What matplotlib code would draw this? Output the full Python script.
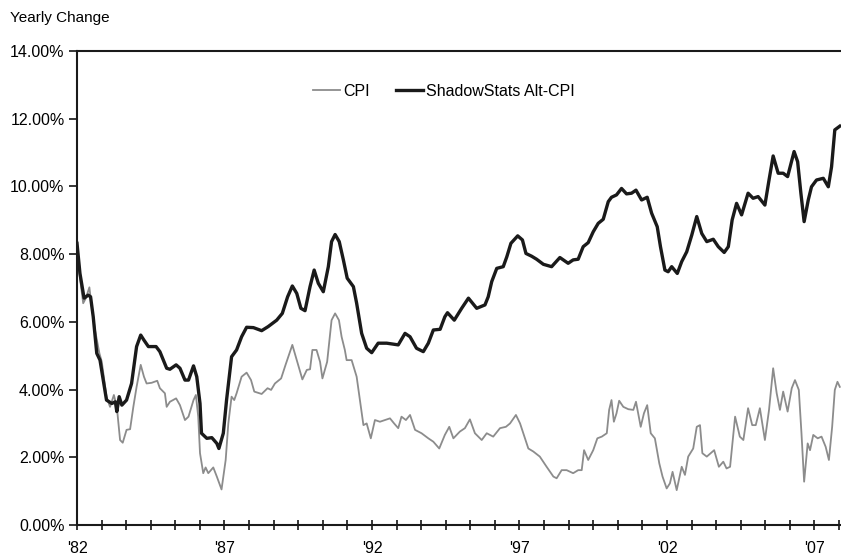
import matplotlib
matplotlib.use("Agg")
import matplotlib.pyplot as plt
from matplotlib.ticker import FuncFormatter

plt.rcParams['font.family'] = ['Liberation Sans', 'DejaVu Sans']

# ShadowStats Alt-CPI, yearly change in %
alt_years = [1982.0, 1982.1, 1982.24, 1982.38, 1982.46, 1982.55, 1982.67, 1982.78, 1983.0, 1983.18,
             1983.3, 1983.35, 1983.43, 1983.52, 1983.68, 1983.85, 1984.02, 1984.16, 1984.27, 1984.42,
             1984.68, 1984.81, 1985.04, 1985.15, 1985.36, 1985.49, 1985.66, 1985.78, 1985.95, 1986.06,
             1986.17, 1986.22, 1986.4, 1986.57, 1986.74, 1986.81, 1986.96, 1987.07, 1987.24, 1987.41,
             1987.58, 1987.75, 1987.98, 1988.26, 1988.48, 1988.77, 1988.96, 1989.14, 1989.3, 1989.45,
             1989.59, 1989.73, 1989.9, 1990.04, 1990.18, 1990.35, 1990.52, 1990.63, 1990.75, 1990.89,
             1991.03, 1991.16, 1991.37, 1991.48, 1991.65, 1991.82, 1991.99, 1992.21, 1992.5, 1992.89,
             1993.12, 1993.29, 1993.51, 1993.74, 1993.91, 1994.08, 1994.31, 1994.47, 1994.56, 1994.79,
             1995.04, 1995.27, 1995.55, 1995.83, 1995.94, 1996.06, 1996.23, 1996.45, 1996.57, 1996.71,
             1996.94, 1997.1, 1997.22, 1997.41, 1997.58, 1997.81, 1998.09, 1998.37, 1998.65, 1998.82,
             1998.99, 1999.16, 1999.33, 1999.5, 1999.67, 1999.84, 2000.01, 2000.12, 2000.29, 2000.46,
             2000.63, 2000.8, 2000.95, 2001.14, 2001.33, 2001.48, 2001.67, 2001.78, 2001.93, 2002.04,
             2002.16, 2002.35, 2002.5, 2002.67, 2002.84, 2003.01, 2003.18, 2003.35, 2003.57, 2003.74,
             2003.94, 2004.08, 2004.21, 2004.36, 2004.53, 2004.75, 2004.92, 2005.09, 2005.32, 2005.46,
             2005.6, 2005.77, 2005.94, 2006.09, 2006.31, 2006.43, 2006.54, 2006.65, 2006.79, 2006.9,
             2007.07, 2007.3, 2007.47, 2007.58, 2007.69, 2007.86]
alt_cpi = [8.32, 7.43, 6.70, 6.79, 6.74, 6.15, 5.07, 4.87, 3.69, 3.59,
           3.64, 3.35, 3.79, 3.54, 3.69, 4.18, 5.27, 5.61, 5.46, 5.27,
           5.27, 5.12, 4.63, 4.60, 4.73, 4.63, 4.28, 4.28, 4.70, 4.38,
           3.59, 2.71, 2.56, 2.58, 2.41, 2.26, 2.71, 3.69, 4.97, 5.17,
           5.56, 5.84, 5.83, 5.74, 5.86, 6.05, 6.25, 6.74, 7.06, 6.84,
           6.40, 6.33, 7.04, 7.53, 7.14, 6.89, 7.63, 8.37, 8.58, 8.37,
           7.83, 7.29, 7.04, 6.55, 5.66, 5.22, 5.09, 5.37, 5.37, 5.32,
           5.66, 5.56, 5.22, 5.12, 5.37, 5.76, 5.78, 6.15, 6.27, 6.05,
           6.40, 6.70, 6.40, 6.50, 6.74, 7.19, 7.58, 7.63, 7.92, 8.32,
           8.54, 8.42, 8.02, 7.94, 7.85, 7.70, 7.63, 7.90, 7.73, 7.83,
           7.85, 8.22, 8.34, 8.66, 8.91, 9.03, 9.55, 9.68, 9.75, 9.94,
           9.78, 9.80, 9.89, 9.60, 9.68, 9.21, 8.81, 8.22, 7.53, 7.48,
           7.63, 7.43, 7.78, 8.07, 8.56, 9.11, 8.61, 8.37, 8.44, 8.22,
           8.05, 8.22, 9.01, 9.50, 9.16, 9.80, 9.65, 9.70, 9.45, 10.19,
           10.90, 10.39, 10.39, 10.29, 11.03, 10.73, 9.80, 8.96, 9.60, 9.99,
           10.19, 10.24, 9.99, 10.58, 11.67, 11.78]

# official CPI, yearly change in %
cpi_years = [1982.0, 1982.1, 1982.21, 1982.3, 1982.42, 1982.47, 1982.61, 1982.76, 1982.84, 1983.0,
             1983.12, 1983.25, 1983.35, 1983.46, 1983.55, 1983.68, 1983.8, 1983.91, 1984.02, 1984.16,
             1984.27, 1984.36, 1984.53, 1984.72, 1984.81, 1984.98, 1985.04, 1985.15, 1985.36, 1985.49,
             1985.66, 1985.78, 1985.95, 1986.03, 1986.11, 1986.17, 1986.28, 1986.36, 1986.45, 1986.62,
             1986.74, 1986.9, 1987.04, 1987.13, 1987.24, 1987.33, 1987.41, 1987.58, 1987.75, 1987.9,
             1988.01, 1988.26, 1988.46, 1988.58, 1988.71, 1988.92, 1989.07, 1989.3, 1989.45, 1989.64,
             1989.79, 1989.9, 1989.98, 1990.12, 1990.24, 1990.32, 1990.48, 1990.63, 1990.75, 1990.88,
             1990.97, 1991.08, 1991.14, 1991.31, 1991.48, 1991.59, 1991.71, 1991.82, 1991.96, 1992.1,
             1992.27, 1992.44, 1992.61, 1992.75, 1992.89, 1993.0, 1993.15, 1993.29, 1993.46, 1993.68,
             1993.91, 1994.08, 1994.28, 1994.47, 1994.62, 1994.76, 1994.98, 1995.15, 1995.32, 1995.49,
             1995.72, 1995.89, 1996.11, 1996.34, 1996.54, 1996.68, 1996.88, 1997.02, 1997.3, 1997.47,
             1997.69, 1997.92, 1998.15, 1998.26, 1998.43, 1998.6, 1998.82, 1998.99, 1999.11, 1999.19,
             1999.33, 1999.5, 1999.64, 1999.79, 1999.96, 2000.04, 2000.12, 2000.2, 2000.29, 2000.38,
             2000.52, 2000.69, 2000.86, 2000.95, 2001.11, 2001.22, 2001.33, 2001.45, 2001.59, 2001.74,
             2001.85, 2001.99, 2002.1, 2002.19, 2002.33, 2002.5, 2002.61, 2002.72, 2002.89, 2003.01,
             2003.12, 2003.2, 2003.35, 2003.6, 2003.76, 2003.91, 2004.02, 2004.14, 2004.31, 2004.47,
             2004.59, 2004.75, 2004.89, 2005.01, 2005.15, 2005.32, 2005.46, 2005.6, 2005.72, 2005.83,
             2005.94, 2006.09, 2006.23, 2006.34, 2006.47, 2006.56, 2006.65, 2006.77, 2006.85, 2006.96,
             2007.11, 2007.24, 2007.38, 2007.49, 2007.6, 2007.69, 2007.78, 2007.86]
cpi = [8.32, 7.30, 6.55, 6.70, 7.02, 6.65, 5.76, 5.07, 4.82, 3.79,
       3.49, 3.84, 3.49, 2.51, 2.43, 2.81, 2.83, 3.49, 4.08, 4.73,
       4.38, 4.18, 4.20, 4.26, 4.04, 3.89, 3.49, 3.64, 3.74, 3.54,
       3.10, 3.20, 3.69, 3.84, 3.20, 2.12, 1.53, 1.70, 1.53, 1.70,
       1.43, 1.05, 1.92, 3.00, 3.79, 3.69, 3.89, 4.38, 4.50, 4.28,
       3.94, 3.87, 4.04, 3.99, 4.18, 4.33, 4.73, 5.32, 4.87, 4.30,
       4.58, 4.60, 5.17, 5.17, 4.82, 4.33, 4.82, 6.05, 6.25, 6.05,
       5.56, 5.17, 4.87, 4.87, 4.38, 3.69, 2.95, 3.00, 2.56, 3.10,
       3.05, 3.10, 3.15, 3.00, 2.86, 3.20, 3.10, 3.25, 2.81, 2.71,
       2.56, 2.46, 2.26, 2.66, 2.90, 2.56, 2.76, 2.86, 3.12, 2.71,
       2.51, 2.71, 2.61, 2.86, 2.90, 3.00, 3.25, 3.00, 2.26, 2.17,
       2.02, 1.72, 1.43, 1.38, 1.62, 1.62, 1.53, 1.62, 1.62, 2.21,
       1.92, 2.21, 2.56, 2.61, 2.71, 3.40, 3.69, 3.05, 3.30, 3.67,
       3.49, 3.42, 3.40, 3.64, 2.90, 3.30, 3.54, 2.71, 2.56, 1.82,
       1.43, 1.08, 1.23, 1.57, 1.03, 1.72, 1.48, 2.02, 2.26, 2.90,
       2.95, 2.12, 2.02, 2.21, 1.72, 1.87, 1.67, 1.72, 3.20, 2.61,
       2.51, 3.45, 2.95, 2.95, 3.45, 2.51, 3.40, 4.63, 3.89, 3.40,
       3.94, 3.35, 4.04, 4.28, 3.99, 2.71, 1.28, 2.41, 2.21, 2.66,
       2.56, 2.61, 2.31, 1.92, 2.90, 3.99, 4.23, 4.08]

year_labels = ["'82", "'87", "'92", "'97", "'02", "'07"]
y_ticks = [0, 2, 4, 6, 8, 10, 12, 14]

fig = plt.figure(figsize=(8.41, 5.57), dpi=100)
ax = fig.add_axes([77 / 841, 1 - 525 / 557, 1 - 77 / 841, (525 - 51) / 557])

ax.plot(cpi_years, cpi, color='#8c8c8c', lw=1.3, label='CPI', zorder=2)
ax.plot(alt_years, alt_cpi, color='#1a1a1a', lw=2.4, label='ShadowStats Alt-CPI', zorder=3)

ax.set_xlim(1982, 2007.9)
ax.set_ylim(0, 14)

# ticks every 10 months, labelled every 5 years
xt = [1982 + k * 10 / 12 for k in range(32) if 1982 + k * 10 / 12 <= 2007.9]
ax.set_xticks(xt)
ax.set_xticklabels([year_labels[k // 6] if k % 6 == 0 else '' for k in range(len(xt))])
ax.set_yticks(y_ticks)
ax.yaxis.set_major_formatter(FuncFormatter(lambda v, p: '%.2f%%' % v))

ax.tick_params(axis='x', direction='inout', length=7, width=1.1, pad=8, labelsize=11.5)
ax.tick_params(axis='y', direction='out', length=6, width=1.1, pad=3, labelsize=11.5)

for s in ['left', 'bottom', 'top']:
    ax.spines[s].set_linewidth(1.5)
    ax.spines[s].set_color('#1a1a1a')
ax.spines['right'].set_visible(False)

fig.text(10 / 841, 1 - 18 / 557, 'Yearly Change', fontsize=11, va='center', ha='left')

fig.legend(loc='center', bbox_to_anchor=(444 / 841, 1 - 91 / 557), ncol=2, frameon=False,
           fontsize=11.5, handlelength=1.7, handletextpad=0.2, columnspacing=1.6)

fig.savefig('out.png', dpi=100)
